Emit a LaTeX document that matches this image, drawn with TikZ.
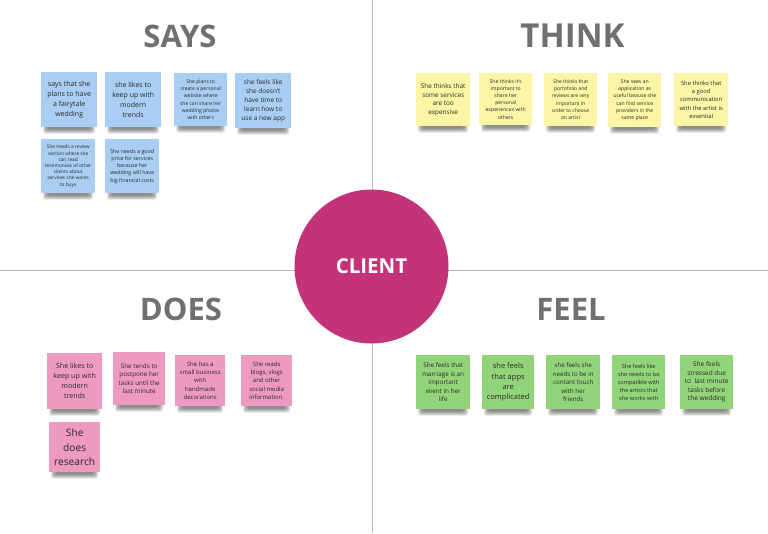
\documentclass[tikz,border=0pt]{standalone}
\usepackage{fontspec}
\setmainfont{Open Sans}
\usetikzlibrary{shapes, backgrounds}

\definecolor{saysblue}{HTML}{A9CDF3}
\definecolor{thinkyellow}{HTML}{FBF5A6}
\definecolor{doespink}{HTML}{EE9AC0}
\definecolor{feelgreen}{HTML}{92D47A}
\definecolor{clientred}{HTML}{C23378}
\definecolor{titlegray}{HTML}{707070}
\definecolor{linegray}{HTML}{B8B8B8}
\definecolor{notetext}{HTML}{2A2A2A}

\tikzset{
  note/.style = {anchor = north west, inner sep = 0pt, align = center, text = notetext},
  title/.style = {font = \bfseries\fontsize{31}{31}\selectfont, text = titlegray},
  axis/.style = {draw = linegray, line width = 1pt}
}

% name, left, top, width, height, colour, font size, line pitch, text
\newcommand{\stickynote}[9]{
  \foreach \inset/\depth in {2/6.5, 3/5.5, 4/4.5, 5/3.5, 7/2.5}
    \fill [black, opacity = 0.11, rounded corners = 2pt]
      (#2+\inset, #3+#5-3) rectangle (#2+#4-\inset, #3+#5+\depth);
  \node [note, fill = #6, minimum width = #4pt, minimum height = #5pt,
         font = \fontsize{#7}{#8}\selectfont] (#1) at (#2, #3) {#9};
}

\begin{document}
\begin{tikzpicture}
  [
    x = 1pt, y = -1pt
  ]
  \useasboundingbox (0, 0) rectangle (768, 533);
  \fill [white] (0, 0) rectangle (768, 533);

  \coordinate (Top) at (372.5, 0);
  \coordinate (Bottom) at (372.5, 533);
  \coordinate (Left) at (0, 270);
  \coordinate (Right) at (768, 270);
  \draw [axis] (Top) -- (Bottom);
  \draw [axis] (Left) -- (Right);

  \node [circle, fill = clientred, minimum size = 154pt, inner sep = 0pt, text = white,
         font = \bfseries\fontsize{20.5}{20.5}\selectfont] (Client) at (371.5, 266.5) {CLIENT};

  \node [title] (Says)  at (180, 36)  {SAYS};
  \node [title, font = \bfseries\fontsize{33}{33}\selectfont] (Think) at (572.5, 36) {THINK};
  \node [title] (Does)  at (181, 309) {DOES};
  \node [title] (Feel)  at (571, 309) {FEEL};

  % says
  \stickynote{SA}{41}{72}{56}{55}{saysblue}{7}{10}{says that she\\plans to have\\a fairytale\\wedding}
  \stickynote{SB}{105}{72}{56}{55}{saysblue}{7}{10}{she likes to\\keep up with\\modern\\trends}
  \stickynote{SC}{174}{73}{53}{53}{saysblue}{5}{7.2}{She plans to\\create a personal\\website where\\she can share her\\wedding photos\\with others}
  \stickynote{SD}{235}{73}{56}{55}{saysblue}{6.5}{9}{she feels like\\she doesn't\\have time to\\learn how to\\use a new app}
  \stickynote{SE}{41}{139}{54}{54}{saysblue}{4.8}{6.2}{She needs a review\\section where she\\can read\\testimonials of other\\clients about\\services she wants\\to buyv}
  \stickynote{SF}{105}{139}{54}{54}{saysblue}{5.3}{7.25}{She needs a good\\price for services\\because her\\wedding will have\\big financial costs}

  % think
  \stickynote{TA}{416}{73}{54}{53}{thinkyellow}{6.4}{8.5}{She thinks that\\some services\\are too\\expensive}
  \stickynote{TB}{479}{73}{53}{52}{thinkyellow}{5.1}{7.2}{She thinks it's\\important to\\share her\\personal\\experiences with\\others}
  \stickynote{TC}{544}{73}{53}{53}{thinkyellow}{5}{7.2}{She thinks that\\portofolio and\\reviews are very\\important in\\order to choose\\an artist}
  \stickynote{TD}{608}{73}{53}{54}{thinkyellow}{5.1}{7.3}{She sees an\\application as\\useful beause she\\can find service\\providers in the\\same place}
  \stickynote{TE}{674}{73}{54}{53}{thinkyellow}{5.8}{8.3}{She thinks that\\a good\\communication\\with the artist is\\essential}

  % does
  \stickynote{DA}{47}{353}{55}{56}{doespink}{7.1}{10}{She likes to\\keep up with\\modern\\trends}
  \stickynote{DB}{113}{352}{52}{53}{doespink}{6.3}{8.3}{She tends to\\postpone her\\tasks until the\\last minute}
  \stickynote{DC}{175}{355}{50}{51}{doespink}{6}{8.2}{She has a\\small business\\with\\handmade\\decorations}
  \stickynote{DD}{241}{355}{51}{51}{doespink}{6}{8.2}{She reads\\blogs, vlogs\\and other\\social media\\information.}
  \stickynote{DE}{49}{422}{51}{50}{doespink}{10.2}{14.2}{She\\does\\research}

  % feel
  \stickynote{FA}{416}{355}{54}{54}{feelgreen}{6.3}{8.5}{She feels that\\marriage is an\\important\\event in her\\life}
  \stickynote{FB}{482}{355}{52}{54}{feelgreen}{7.5}{10.3}{she feels\\that apps\\are\\complicated}
  \stickynote{FC}{546}{355}{54}{54}{feelgreen}{6.2}{8.5}{she feels she\\needs to be in\\contant touch\\with her\\friends}
  \stickynote{FD}{612}{355}{53}{54}{feelgreen}{5.6}{8}{She feels like\\she needs to be\\compatible with\\the artists that\\she works with}
  \stickynote{FE}{680}{355}{53}{54}{feelgreen}{6.5}{8.5}{She feels\\stressed due\\to\ \ last minute\\tasks before\\the wedding}
\end{tikzpicture}
\end{document}
